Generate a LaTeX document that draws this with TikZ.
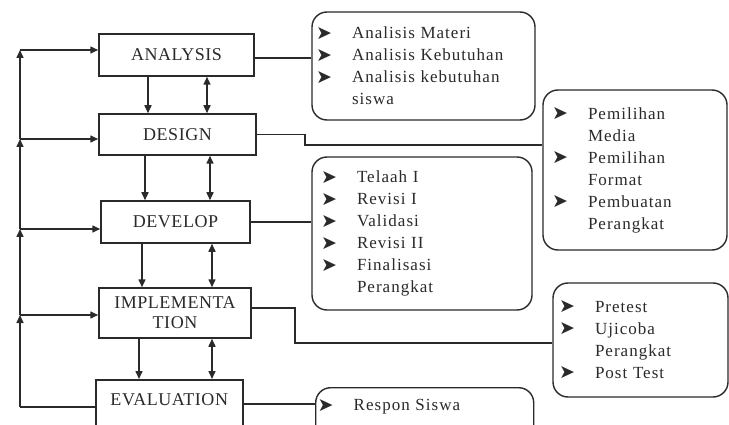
\documentclass[tikz,border=0pt]{standalone}
\usepackage{fontspec}
\setmainfont{Liberation Serif}
\newfontfamily\bltfont{DejaVu Sans}
\newfontfamily\boxfont{Liberation Serif}[LetterSpace=3]
\newfontfamily\listfont{Liberation Serif}[LetterSpace=6]
\usetikzlibrary{arrows.meta,calc}
\definecolor{ln}{HTML}{2A2A2A}
\newcommand{\blt}{\makebox[35pt][l]{\hspace*{-1pt}\raisebox{-0.5pt}{\bltfont\fontsize{19}{19}\selectfont ➤}}}
\newcommand{\ind}{\hspace*{35pt}}
\tikzset{
  stage/.style={draw=ln, line width=1.5pt, rectangle, align=center, text=ln,
    font=\boxfont\fontsize{18}{20}\selectfont},
  rbox/.style={draw=ln, line width=1.4pt, rounded corners=15pt, align=left, text=ln,
    inner ysep=0pt, font=\listfont\fontsize{17}{22}\selectfont},
  conn/.style={draw=ln, line width=1.5pt},
  arr/.style={conn, -{Triangle[length=8pt,width=7pt]}},
  darr/.style={conn, {Triangle[length=8pt,width=7pt]}-{Triangle[length=8pt,width=7pt]}}
}
\begin{document}
\begin{tikzpicture}[x=1pt,y=-1pt]
\useasboundingbox (0,0) rectangle (729,425);
\clip (0,0) rectangle (729,425);
\fill[white] (0,0) rectangle (729,425);

% stages
\node[stage, minimum width=155pt, minimum height=42pt] (ana) at (176.5,55) {ANALYSIS};
\node[stage, minimum width=157pt, minimum height=41pt] (des) at (177.5,134.5) {DESIGN};
\node[stage, minimum width=149pt, minimum height=42pt] (dev) at (175.5,222) {DEVELOP};
\node[stage, minimum width=152pt, minimum height=50pt] (imp) at (175,313) {IMPLEMENTA\\TION};
\node[stage, anchor=north west, minimum width=147pt, inner ysep=0pt, text height=26pt, text depth=40pt] (eva) at (95,379) {EVALUATION};

% vertical arrows between stages
\coordinate (v1) at (148,0); \coordinate (w1) at (207,0);
\coordinate (v2) at (145,0); \coordinate (w2) at (210,0);
\coordinate (v3) at (142,0); \coordinate (w3) at (212,0);
\coordinate (v4) at (139,0); \coordinate (w4) at (212,0);
\draw[arr] (ana.south -| v1) -- (des.north -| v1);
\draw[darr] (ana.south -| w1) -- (des.north -| w1);
\draw[arr] (des.south -| v2) -- (dev.north -| v2);
\draw[darr] (des.south -| w2) -- (dev.north -| w2);
\draw[arr] (dev.south -| v3) -- (imp.north -| v3);
\draw[darr] (dev.south -| w3) -- (imp.north -| w3);
\draw[arr] (imp.south -| v4) -- (eva.north -| v4);
\draw[darr] (imp.south -| w4) -- (eva.north -| w4);

% feedback line
\coordinate (f1) at (20,315);
\coordinate (f2) at (20,229);
\coordinate (f3) at (20,139);
\coordinate (f4) at (20,50);
\coordinate (e0) at ($(eva.north west)+(0,28)$);
\draw[conn] (e0) -- (e0 -| f1);
\draw[arr] (e0 -| f1) -- (f1);
\draw[arr] (f1) -- (f2);
\draw[arr] (f2) -- (f3);
\draw[arr] (f3) -- (f4);
\draw[arr] (f4) -- (f4 -| ana.west);
\draw[arr] (f3) -- (f3 -| des.west);
\draw[arr] (f2) -- (f2 -| dev.west);
\draw[arr] (f1) -- (f1 -| imp.west);

% detail boxes
\node[rbox, minimum height=108pt, text width=213pt, inner xsep=5pt] (b1) at (423.5,66)
  {\blt Analisis Materi\\\blt Analisis Kebutuhan\\\blt Analisis kebutuhan\\\ind siswa};
\node[rbox, minimum height=160pt, text width=164pt, inner xsep=10pt] (b2) at (635,170)
  {\blt Pemilihan\\\ind Media\\\blt Pemilihan\\\ind Format\\\blt Pembuatan\\\ind Perangkat};
\node[rbox, minimum height=153pt, text width=200pt, inner xsep=10pt] (b3) at (422,233.5)
  {\blt Telaah I\\\blt Revisi I\\\blt Validasi\\\blt Revisi II\\\blt Finalisasi\\\ind Perangkat};
\node[rbox, minimum height=114pt, text width=161pt, inner xsep=7pt] (b4) at (640.5,340)
  {\blt Pretest\\\blt Ujicoba\\\ind Perangkat\\\blt Post Test};
\node[rbox, anchor=north west, text width=212pt, inner xsep=3pt, text height=23pt, text depth=40pt] (b5) at (315,387)
  {\blt Respon Siswa};

% connectors to detail boxes
\coordinate (a1) at ($(ana.east)+(0,3)$);
\draw[conn] (a1) -- (a1 -| b1.west);
\coordinate (k2) at (305,145);
\draw[conn] (des.east) -| (k2) -- (k2 -| b2.west);
\draw[conn] (dev.east) -- (dev.east -| b3.west);
\coordinate (i1) at ($(imp.east)+(0,-5)$);
\coordinate (k4) at (295,343);
\draw[conn] (i1) -| (k4) -- (k4 -| b4.west);
\coordinate (e1) at ($(eva.north east)+(0,25)$);
\draw[conn] (e1) -- (e1 -| b5.west);
\end{tikzpicture}
\end{document}
